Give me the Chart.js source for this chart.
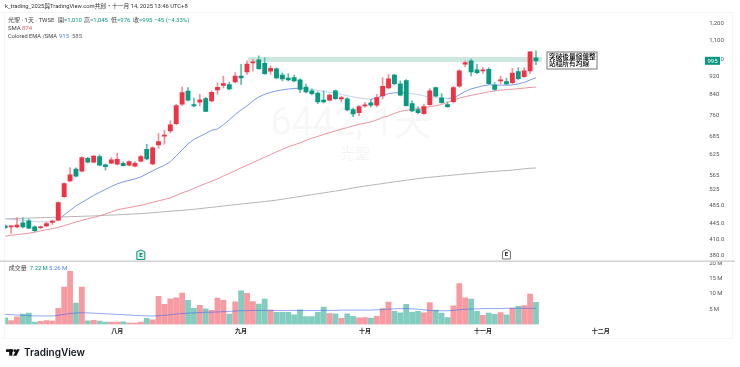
<!DOCTYPE html>
<html>
<head>
<meta charset="utf-8">
<style>
html,body{margin:0;padding:0;background:#fff;}
canvas{display:block;}
</style>
<script src="https://cdn.jsdelivr.net/npm/chart.js@4"></script>
</head>
<body>
<canvas id="c" width="740" height="367"></canvas>
<script>
const opens = [
439,437,437,445.7,450,437,435,439,447,451.7,
507.8,548.8,582,576,614,602,619,594,599,596,
599,593,590,605,642,597,656,685,703,729,
803,856,801,811,825,816,861.5,881,884,896,
922,942,985,1000,983,945,956,927,913,916,
905,874,857,848,819,819,857,824,824,781,
770,796,808,799,836,870,927,888,902,805,
781,766,801,871.5,828,801,813,877,978,995,
951,946.5,954,882,901,898,893,943,920,946.5,
1010];
const closes = [
435,439,441,437,434,429,437,444,449.5,492.9,
541.6,565.4,561.8,616,602,620.3,593,589,609,611,
592,604,599,619,612,646.4,667,689,724.4,797,
850,819,796,820,774,851,872.2,889,866,923,
914.6,979,990,957,934,959,914.4,910,905,901,
863,853,845,812,812,840,825,829,780,765,
793,800,799,829,877,910,888,839,797,776,
770,793,857,835,809,793,871,946.5,986,942,
938,951,889,864,905,887,936,911,946.5,1040,
995];
const highs = [
441,439,457.6,457.6,454.6,439,439,448,452.4,494.6,
543.4,586,585.4,618,616.6,623,624.3,597,616,630,
603,606,604,623,658,649.6,695,705.6,739,802,
874,871,827,843,830,857,892,923,896,939,
978,995,1003,1020,1011,970,961,937,934,926.6,
910,887,866,853,857,845,861,834,829,788,
798,810,822,843,915.7,931,930,901,907,816,
792,803,867,874,846,812,876.6,951,994.6,1003,
978,962,961,893,923,913,959,962,962,1042,
1045];
const lows = [
433,423,434.8,434.8,433,426,433,437,442.5,450,
505.8,546,560,574,600,600,591,578.7,597,594,
591,591,588,603,609,594,645,658,696,724,
798,816,792,796,773,812,843,870,861,892,
885,930,946.5,954,930,931,910,901,901,896,
850,849,840,805,808,816,822,812,776,754,
758,790,792,792,824,866,883,836,796,773,
765,763,798,832,806,790,807,873,966,923,
934,935,885,857,889,883,886,905,916,935,
976];
const volumes = [
2.2,1.3,2.5,3.4,3.7,0.8,1.0,1.3,1.1,5.3,
12.2,17.4,7.0,12.2,1.2,1.4,1.1,0.8,0.8,0.8,
0.9,0.5,0.5,0.8,2.0,1.5,9.2,6.6,8.4,8.7,
10.3,7.9,5.3,6.3,5.1,4.6,8.6,7.9,3.4,7.4,
11.0,10.2,7.5,6.7,8.3,4.7,4.0,4.0,4.0,3.2,
4.8,2.6,2.6,4.0,5.7,3.6,3.5,2.0,3.5,2.7,
2.2,2.3,2.1,2.7,5.2,7.3,4.3,3.8,6.6,4.0,
4.3,3.8,7.2,4.7,3.7,2.3,6.1,13.4,8.7,8.3,
4.3,3.0,3.7,3.3,3.9,3.2,5.4,5.9,6.2,9.9,
7.22];
const volumeMA = [
3.3,3.2,3.1,3.0,2.9,2.8,2.8,2.8,2.8,3.0,
3.3,3.6,3.8,3.8,3.8,3.7,3.6,3.5,3.4,3.3,
3.2,3.1,3.0,2.9,2.8,2.8,2.9,3.0,3.2,3.4,
3.6,3.7,3.8,3.9,4.0,4.0,4.1,4.2,4.3,4.4,
4.5,4.5,4.6,4.6,4.6,4.6,4.6,4.6,4.6,4.6,
4.6,4.6,4.6,4.6,4.6,4.6,4.6,4.7,4.7,4.7,
4.7,4.7,4.7,4.8,4.9,5.0,5.1,5.2,5.2,5.1,
5.0,4.8,4.6,4.5,4.5,4.5,4.6,4.8,5.0,5.1,
5.1,5.2,5.2,5.2,5.2,5.3,5.3,5.3,5.3,5.3,
5.26];
const ema = [
454.6,453.5,452.4,451.2,450.1,449,447.9,447.9,449,451.2,
463.7,474.2,484.9,493.4,502,510.8,518.5,526,534,540.8,
546.1,550,554.3,559.8,568.2,576.7,585.4,592.7,603,621.2,
640,659.3,674,684,694.5,705,710,724.4,742.5,763,
780,795.8,815.8,832,842.6,851,857.2,861.5,865,867.5,
868.8,866.7,863.7,859.3,855,851,846.8,842.6,837,832,
828,824,822,828,838.4,845,849,850,849,845,
842.6,836.3,830,828,827,826,828,840.5,855,865.8,
872.3,878.7,883,883,882,881.8,883,887.4,894,905,
915];
const sma = [
417.3,419,420.4,422,423.5,425.6,428.4,431,433.1,436,
439.5,443.5,447.9,451.2,454.6,458,461.4,466,470.7,475.4,
478.2,480.9,483.5,486,489.7,493.4,497,500.7,504.5,510.8,
517.2,522.3,528.9,535.4,541.6,548,554.3,562.6,569.7,577.3,
585.4,592.7,601,609,617.2,625.2,633.7,641.6,649.6,656,
662.6,670.8,678.2,684.2,691,697,703,709,714.7,720.8,
726.2,730.5,735,742.5,751.8,757.4,767,774.5,778.3,782,
785.3,789.2,792.7,796.6,801,809.8,818.7,827.2,833,838.4,
843.4,848,853,857.2,860.2,862.4,864.5,866.7,869.3,871.8,
874];
const sma200 = [
454.6,455.1,455.5,456,456.4,456.9,457.3,457.8,458.2,458.7,
459.1,459.6,460,460.5,460.9,461.4,462.1,462.8,463.2,463.9,
464.6,465.3,466,466.7,467.6,468.8,470,471.1,472.3,473.2,
474.2,475.4,476.8,478.3,480,481.4,483.1,484.6,486.3,487.8,
489.5,491,492.4,493.9,495.4,497.2,498.9,501.2,503.4,505.7,
508,510.3,512.6,514.9,517.2,519.5,521.8,524.2,527.1,530,
532.7,534.8,537.2,539.4,541.6,544,546.2,548.3,550.5,552.8,
555.1,557.3,558.7,560.3,562,563.4,565,566.5,568.1,569.6,
571.2,572.6,574.3,575.4,576.6,577.7,578.9,580.9,582.6,584.3,
585];
const priceTicks = [1200,1100,1000,920,840,760,685,625,565,525,485,445,410,380];
const priceLabels = ['1,200','1,100','1,000','920','840','760','685','625','565','525','485.0','445.0','410.0','380.0'];
const volumeTicks = [5,10,15,20];
const volumeLabels = ['5\u2009M','10\u2009M','15\u2009M','20\u2009M'];
const monthIndex = [19,40,61,81,101];
const monthNames = ['八月','九月','十月','十一月','十二月'];
const slotCount = 118;
const categories = [];
for (let i = 0; i < slotCount; i++) {
  const m = monthIndex.indexOf(i);
  categories.push(m >= 0 ? monthNames[m] : '');
}
const bandLow = 989, bandHigh = 1014, bandFrom = 41.2, bandTo = 91;
const earningsIndex = [23, 85];
const emaFalling = [[0, 9], [50, 62], [68, 75]];

const UP = '#ef3345', DOWN = '#089981';
const FONT = 'Roboto, "Noto Sans CJK TC", sans-serif';
const ranges = closes.map((c, i) => [lows[i], highs[i]]);
const bodies = closes.map((c, i) => [opens[i], c]);
const isUp = closes.map((c, i) => c >= opens[i]);

function text(ctx, s, x, y, color, font, align) {
  ctx.fillStyle = color;
  ctx.font = font;
  ctx.textAlign = align || 'left';
  ctx.textBaseline = 'middle';
  ctx.fillText(s, x, y);
}

const decor = {
  id: 'decor',
  beforeDatasetsDraw(chart) {
    const ctx = chart.ctx, x = chart.scales.x, y = chart.scales.y;
    ctx.save();
    ctx.strokeStyle = '#f5f5f5';
    ctx.lineWidth = 1;
    ctx.beginPath();
    ctx.moveTo(4.5, 338.5); ctx.lineTo(4.5, 13); ctx.moveTo(0, 12.5); ctx.lineTo(733, 12.5);
    ctx.moveTo(732.5, 13); ctx.lineTo(732.5, 338.5); ctx.moveTo(0, 338.5); ctx.lineTo(733, 338.5);
    ctx.stroke();
    text(ctx, '6442, 1天', 351, 125, 'rgba(0,0,0,0.03)', '38px ' + FONT, 'center');
    text(ctx, '光聖', 355, 155, 'rgba(0,0,0,0.045)', '15px ' + FONT, 'center');
    const top = y.getPixelForValue(bandHigh), bot = y.getPixelForValue(bandLow);
    const l = x.getPixelForValue(bandFrom), r = x.getPixelForValue(bandTo);
    ctx.fillStyle = '#cde9df';
    ctx.fillRect(l, top, r - l, bot - top);
    ctx.restore();
  },
  afterDraw(chart) {
    const ctx = chart.ctx, x = chart.scales.x, y = chart.scales.y;
    ctx.save();
    ctx.fillStyle = '#cfcfcf';
    ctx.fillRect(0, 260.5, 735, 1.4);

    text(ctx, 'k_trading_2025與TradingView.com共創・十一月 14, 2025 13:46 UTC+8', 5, 7, '#333', '5.8px ' + FONT);
    const f = '6px ' + FONT, dark = '#444', G = DOWN;
    text(ctx, '光聖 · 1天 · TWSE', 8, 20, dark, f);
    text(ctx, '開', 58, 20, dark, f); text(ctx, '=1,010', 64, 20, G, f);
    text(ctx, '高', 84, 20, dark, f); text(ctx, '=1,045', 90, 20, G, f);
    text(ctx, '低', 111, 20, dark, f); text(ctx, '=976', 117, 20, G, f);
    text(ctx, '收', 133, 20, dark, f); text(ctx, '=995', 139, 20, G, f);
    text(ctx, '−45 (−4.33%)', 154, 20, G, f);
    text(ctx, 'SMA', 8, 28.5, dark, f); text(ctx, '874', 22, 28.5, '#ee5a6a', f);
    text(ctx, 'Colored EMA /SMA', 8, 36.5, dark, '5.7px ' + FONT);
    text(ctx, '915', 59, 36.5, '#4f7df0', f); text(ctx, '585', 72, 36.5, '#666', f);

    text(ctx, '成交量', 8.7, 268.5, dark, f);
    text(ctx, '7.22\u2009M', 29.7, 268.5, G, f);
    text(ctx, '5.26\u2009M', 49, 268.5, '#4f7df0', f);

    const ly = y.getPixelForValue(closes[closes.length - 1]);
    ctx.fillStyle = DOWN;
    ctx.fillRect(705, ly - 4, 15, 8);
    text(ctx, '995', 712.5, ly + 0.2, '#fff', '6px ' + FONT, 'center');

    ctx.fillStyle = '#fff';
    ctx.fillRect(547, 52, 50, 17);
    ctx.strokeStyle = '#777';
    ctx.lineWidth = 1;
    ctx.strokeRect(547, 52, 50, 17);
    const af = '500 6.7px "Noto Sans CJK TC", sans-serif';
    text(ctx, '突破後量縮盤整', 549, 56.7, '#000', af);
    text(ctx, '站穩所有均線', 549, 63.7, '#000', af);

    earningsIndex.forEach((idx, k) => {
      const px = x.getPixelForValue(idx), py = k === 0 ? 255 : 254.5;
      ctx.beginPath();
      ctx.moveTo(px - 4, py - 3.2);
      ctx.lineTo(px, py - 5);
      ctx.lineTo(px + 4, py - 3.2);
      ctx.lineTo(px + 4, py + 4.5);
      ctx.lineTo(px - 4, py + 4.5);
      ctx.closePath();
      ctx.fillStyle = k === 0 ? '#d8f0ea' : '#fff';
      ctx.fill();
      ctx.strokeStyle = k === 0 ? DOWN : '#777';
      ctx.lineWidth = 1;
      ctx.stroke();
      text(ctx, 'E', px, py + 0.2, k === 0 ? '#0a6f5e' : '#111', '700 6px ' + FONT, 'center');
    });

    ctx.fillStyle = '#111';
    ctx.fillRect(6, 349.3, 7, 2.6);
    ctx.fillRect(9.2, 349.3, 3.2, 6.4);
    ctx.beginPath(); ctx.arc(14.8, 350.7, 1.35, 0, Math.PI * 2); ctx.fill();
    ctx.beginPath();
    ctx.moveTo(16.8, 349.3); ctx.lineTo(19.8, 349.3); ctx.lineTo(16.4, 355.7); ctx.lineTo(13.2, 355.7);
    ctx.closePath(); ctx.fill();
    text(ctx, 'TradingView', 24, 352.7, '#131722', '600 10px Inter, ' + FONT);
    ctx.restore();
  }
};

function fitAxis(s) { s.width = 44.8; s.paddingTop = 0; s.paddingBottom = 0; }

new Chart(document.getElementById('c'), {
  type: 'bar',
  plugins: [decor],
  data: {
    labels: categories,
    datasets: [
      { type: 'bar', label: '實體', data: bodies, grouped: false, barThickness: 4.2, order: 0, yAxisID: 'y',
        backgroundColor: isUp.map(u => u ? UP : DOWN) },
      { type: 'bar', label: '影線', data: ranges, grouped: false, barThickness: 1, order: 1, yAxisID: 'y',
        backgroundColor: isUp.map(u => u ? '#f48f99' : '#5fbdac') },
      { type: 'line', label: 'EMA', data: ema, yAxisID: 'y', order: 2, borderWidth: 1, pointRadius: 0, tension: 0,
        borderColor: '#7f97ea',
        segment: { borderColor: c => emaFalling.some(r => c.p0DataIndex >= r[0] && c.p0DataIndex < r[1]) ? '#c6d0f2' : undefined } },
      { type: 'line', label: 'SMA', data: sma, yAxisID: 'y', order: 3, borderWidth: 1, pointRadius: 0, tension: 0, borderColor: '#ee93a0' },
      { type: 'line', label: 'SMA2', data: sma200, yAxisID: 'y', order: 4, borderWidth: 1, pointRadius: 0, tension: 0, borderColor: '#b5b5b5' },
      { type: 'line', label: '均量', data: volumeMA, yAxisID: 'vol', order: 5, borderWidth: 1, pointRadius: 0, tension: 0, borderColor: 'rgba(70,110,235,0.6)' },
      { type: 'bar', label: '成交量', data: volumes, grouped: false, barThickness: 5.1, order: 6, yAxisID: 'vol',
        backgroundColor: isUp.map(u => u ? 'rgba(242,54,69,0.5)' : 'rgba(8,153,129,0.5)') }
    ]
  },
  options: {
    responsive: false,
    animation: false,
    events: [],
    layout: { padding: { left: 5.2, top: 13, right: 0, bottom: 28.5 } },
    plugins: {
      legend: { display: false },
      tooltip: { enabled: false }
    },
    scales: {
      x: {
        type: 'category',
        offset: false,
        grid: { display: false, drawTicks: false },
        border: { display: false },
        afterFit(s) { s.height = 14; },
        ticks: {
          autoSkip: false, maxRotation: 0, minRotation: 0, padding: 3,
          color: '#222', font: { size: 6, family: FONT, weight: '700' },
          callback(v) { return categories[v]; }
        }
      },
      y: {
        type: 'logarithmic',
        position: 'right',
        stack: 'panes',
        stackWeight: 248,
        min: 369,
        max: 1261,
        grid: { display: false, drawTicks: false },
        border: { display: false },
        afterFit: fitAxis,
        afterBuildTicks(s) { s.ticks = priceTicks.map(v => ({ value: v })); },
        ticks: {
          autoSkip: false, padding: 14, color: '#555', font: { size: 6, family: FONT },
          callback(v) { const k = priceTicks.indexOf(v); return k >= 0 ? priceLabels[k] : ''; }
        }
      },
      vol: {
        type: 'linear',
        position: 'right',
        stack: 'panes',
        stackWeight: 63.5,
        min: 0,
        max: 20.75,
        grid: { display: false, drawTicks: false },
        border: { display: false },
        afterFit: fitAxis,
        afterBuildTicks(s) { s.ticks = volumeTicks.map(v => ({ value: v })); },
        ticks: {
          autoSkip: false, padding: 14, color: '#555', font: { size: 6, family: FONT },
          callback(v) { const k = volumeTicks.indexOf(v); return k >= 0 ? volumeLabels[k] : ''; }
        }
      }
    }
  }
});
</script>
</body>
</html>
